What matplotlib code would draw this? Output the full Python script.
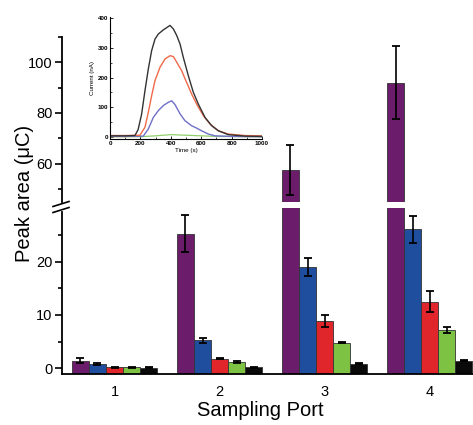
import matplotlib
matplotlib.use("Agg")
import matplotlib.pyplot as plt
import numpy as np
from matplotlib.lines import Line2D

plt.rcParams['font.family'] = ['Liberation Sans', 'DejaVu Sans']

# ---------------- data ----------------
ports = ["1", "2", "3", "4"]
series_colors = ["#6b1d6b", "#1f4e9e", "#e0252b", "#7dc242", "#0a0a0a"]
purple = [1.4, 25.3, 57.4, 92.0]
purple_err = [0.5, 3.5, 10.0, 14.3]
blue = [0.8, 5.2, 19.0, 26.1]
blue_err = [0.15, 0.4, 1.7, 2.5]
red = [0.2, 1.75, 8.9, 12.5]
red_err = [0.1, 0.1, 1.1, 2.0]
green = [0.2, 1.1, 4.8, 7.2]
green_err = [0.1, 0.15, 0.15, 0.5]
black = [0.05, 0.2, 0.85, 1.4]
black_err = [0.1, 0.1, 0.1, 0.1]

# inset chromatograms (time in s, current in nA)
black_t = [0, 100, 164, 185, 208, 230, 252, 274, 296, 318, 351, 395, 417, 439, 461,
           482, 515, 548, 581, 625, 669, 713, 778, 888, 1000]
black_i = [4, 4, 5, 25, 77, 156, 229, 291, 330, 347, 361, 376, 364, 342, 313,
           269, 207, 151, 111, 66, 38, 21, 8, 3, 2]
red_t = [0, 100, 197, 230, 252, 274, 296, 329, 362, 395, 417, 439, 471, 504, 537,
         570, 614, 658, 713, 778, 888, 1000]
red_i = [5, 5, 6, 33, 83, 139, 190, 235, 263, 274, 271, 252, 224, 184, 145,
         111, 72, 44, 21, 10, 5, 4]
blue_t = [0, 100, 219, 252, 285, 318, 351, 384, 406, 428, 461, 493, 537, 570, 603,
          647, 691, 800, 1000]
blue_i = [2, 2, 3, 27, 66, 89, 106, 117, 122, 109, 78, 55, 38, 30, 21,
          10, 4, 2, 1]
green_t = [0, 200, 300, 400, 500, 600, 700, 1000]
green_i = [1, 1, 4, 8, 6, 4, 2, 1]

W, H = 473, 425
fig = plt.figure(figsize=(W / 100, H / 100), dpi=100)

left = 62 / W
ax_top = fig.add_axes([left, 1 - 202 / H, 1 - left, (202 - 37) / H])
ax_bot = fig.add_axes([left, 1 - 374 / H, 1 - left, (374 - 208) / H])

values = [purple, blue, red, green, black]
errs = [purple_err, blue_err, red_err, green_err, black_err]
x = np.arange(len(ports))
bw = 0.162
lo_min, lo_max = -1.1, 30.1
hi_min, hi_max = 44.8, 110

for ax in (ax_top, ax_bot):
    for i, (vals, er, c) in enumerate(zip(values, errs, series_colors)):
        pos = x + (i - 2) * bw
        v = np.array(vals)
        ax.bar(pos, v - lo_min, bottom=lo_min, width=bw, color=c,
               edgecolor="#333333", linewidth=0.6, zorder=2)
        ax.errorbar(pos, v, yerr=er, fmt="none", ecolor="black",
                    elinewidth=1.2, capsize=3.2, capthick=1.3, zorder=3)

for ax in (ax_top, ax_bot):
    ax.set_xlim(-0.5, 3.414)
    for s in ("top", "right"):
        ax.spines[s].set_visible(False)
    ax.spines["left"].set_linewidth(1.3)
    ax.tick_params(axis="y", which="major", direction="out", length=5, width=1.2,
                   labelsize=10.5, pad=2)
    ax.tick_params(axis="y", which="minor", direction="out", length=3, width=1.2)

ax_top.set_ylim(hi_min, hi_max)
ax_top.spines["bottom"].set_visible(False)
ax_top.set_xticks([])
ax_top.set_yticks([60, 80, 100])
ax_top.set_yticks([50, 70, 90, 110], minor=True)

ax_bot.set_ylim(lo_min, lo_max)
ax_bot.spines["left"].set_bounds(lo_min, 29.3)
ax_bot.spines["bottom"].set_linewidth(1.3)
ax_bot.set_yticks([0, 10, 20])
ax_bot.set_yticks([5, 15, 25], minor=True)
ax_bot.set_xticks(x)
ax_bot.set_xticklabels(ports)
ax_bot.tick_params(axis="x", length=0, labelsize=10.5, pad=8)

# break marks
for yy in (204, 210):
    fig.add_artist(Line2D([53 / W, 69 / W], [1 - (yy + 2.5) / H, 1 - (yy - 2.5) / H],
                          color="black", lw=1.2))

fig.text(24 / W, 1 - 193 / H, "Peak area (\u03bcC)", rotation=90, ha="center",
         va="center", fontsize=14.5)
fig.text(260 / W, 1 - 410 / H, "Sampling Port", ha="center", va="center", fontsize=14.5)

# inset
ins = fig.add_axes([110 / W, 1 - 138.5 / H, 152 / W, 121.1 / H])
ins.plot(green_t, green_i, color="#8fcf6a", lw=0.9)
ins.plot(blue_t, blue_i, color="#6f6fc8", lw=1.0)
ins.plot(red_t, red_i, color="#f06a4a", lw=1.0)
ins.plot(black_t, black_i, color="#333333", lw=1.0)
ins.set_xlim(0, 1000)
ins.set_ylim(-5, 403)
ins.set_xticks([0, 200, 400, 600, 800, 1000])
ins.set_xticks([100, 300, 500, 700, 900], minor=True)
ins.set_yticks([0, 100, 200, 300, 400])
ins.set_yticks([50, 150, 250, 350], minor=True)
for s in ("top", "right"):
    ins.spines[s].set_visible(False)
for s in ("left", "bottom"):
    ins.spines[s].set_linewidth(0.8)
ins.tick_params(which="major", direction="in", length=2, width=0.6, labelsize=4.5, pad=1.5)
ins.tick_params(which="minor", direction="in", length=1.2, width=0.5)
for lab in ins.get_xticklabels() + ins.get_yticklabels():
    lab.set_fontweight("bold")
ins.set_xlabel("Time (s)", fontsize=4.5, labelpad=1.5)
ins.set_ylabel("Current (nA)", fontsize=4.5, labelpad=2)
ins.patch.set_alpha(0)

fig.savefig("out.png", dpi=100)
